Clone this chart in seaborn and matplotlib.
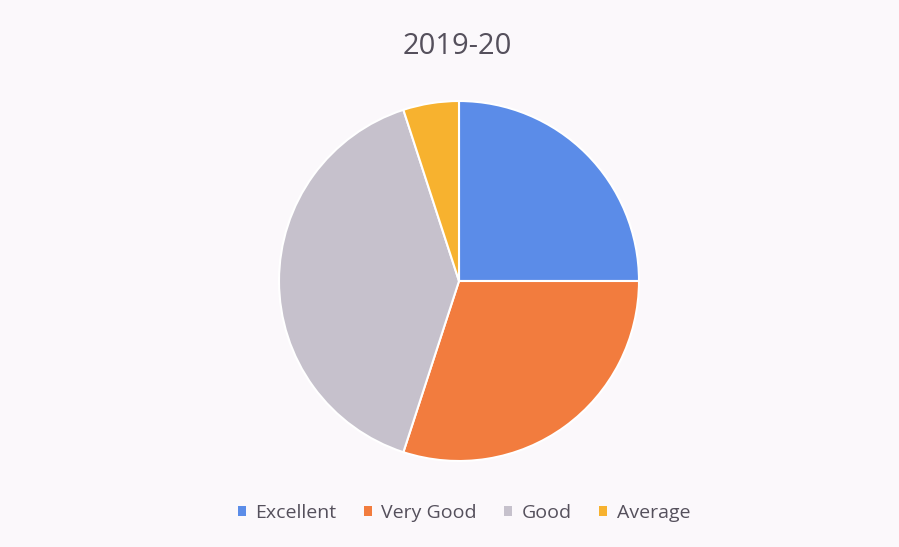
import matplotlib
matplotlib.use("Agg")
import matplotlib.pyplot as plt
import seaborn as sns

# Data
categories = ["Excellent", "Very Good", "Good", "Average"]
shares = [25, 30, 40, 5]
colors = ["#5b8ce8", "#f27c3e", "#c6c1cc", "#f7b22f"]
title = "2019-20"

sns.set_theme(style="white")
plt.rcParams['font.family'] = ['Open Sans', 'DejaVu Sans']

bg = "#fbf8fb"
fig = plt.figure(figsize=(8.99, 5.47), dpi=100, facecolor=bg)

# pie centre ~ (459, 281) px, radius ~ 180 px
ax = fig.add_axes([(459 - 180) / 899, (547 - 281 - 180) / 547, 360 / 899, 360 / 547])
ax.set_facecolor(bg)
wedges, _ = ax.pie(shares, colors=colors, startangle=90, counterclock=False,
                   radius=1.0, wedgeprops=dict(edgecolor="white", linewidth=1.5))
ax.set_xlim(-1.0, 1.0)
ax.set_ylim(-1.0, 1.0)
ax.set_aspect("equal")
ax.axis("off")

fig.text(457 / 899, 1 - 47 / 547, title, ha="center", va="center",
         fontsize=21, color="#55505c")

leg = fig.legend(wedges, categories, loc="center", bbox_to_anchor=(464 / 899, 1 - 513 / 547),
                 ncol=4, frameon=False, fontsize=14, handlelength=0.4, handleheight=0.4,
                 handletextpad=0.5, columnspacing=1.4, labelcolor="#55505c")
for h in leg.legend_handles:
    h.set_edgecolor("none")

fig.savefig("out.png", dpi=100, facecolor=bg)
